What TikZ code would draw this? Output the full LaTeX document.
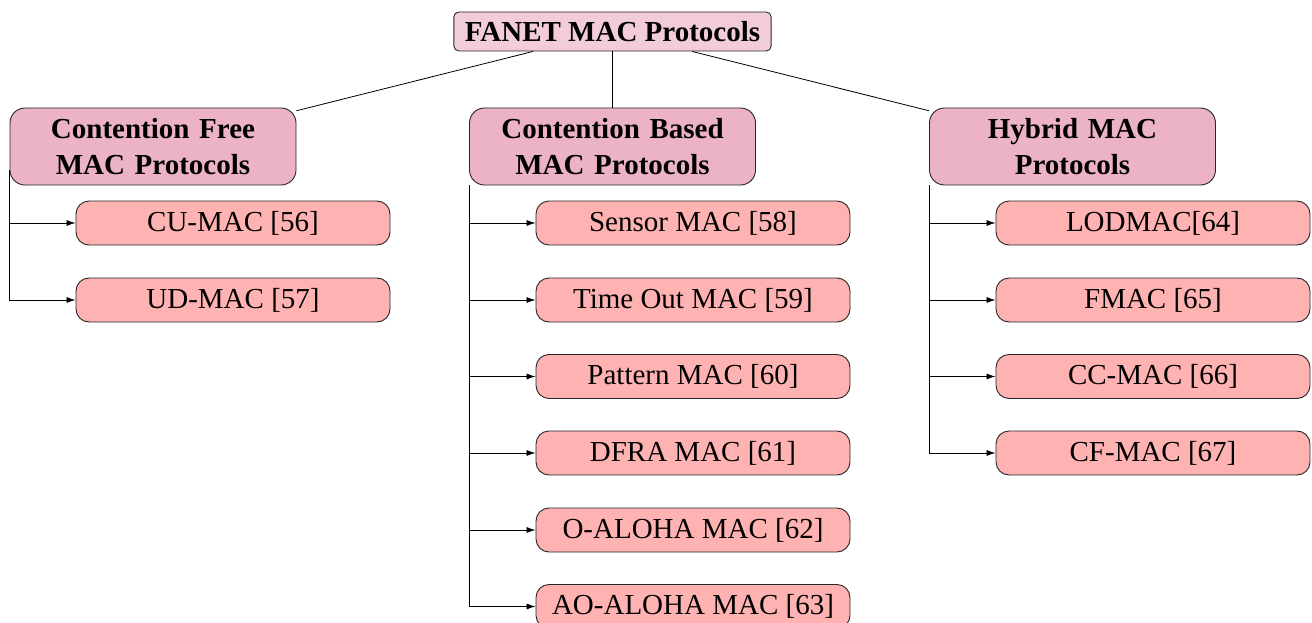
\documentclass[tikz,border=0pt]{standalone}
\usepackage{fontspec}
\setmainfont{Liberation Serif}
\usetikzlibrary{arrows.meta,calc}
\begin{document}
\begin{tikzpicture}[x=1pt,y=1pt,
  base/.style={draw=black!85, line width=0.9pt, align=center},
  rootbox/.style={base, fill=purple!20, rounded corners=5pt, minimum height=39pt, inner xsep=11pt, inner ysep=0pt, font=\fontsize{29}{36}\selectfont\bfseries},
  catbox/.style={base, fill=purple!30, rounded corners=15pt, text width=262pt, inner xsep=12pt, minimum height=77pt, inner ysep=0pt, font=\fontsize{29}{36}\selectfont\bfseries},
  leafbox/.style={base, fill=red!30, rounded corners=13pt, minimum width=314pt, minimum height=44pt, inner sep=0pt, font=\fontsize{29}{35}\selectfont},
  link/.style={line width=0.8pt},
  arr/.style={link, -{Latex[length=9pt,width=6pt]}}]
\useasboundingbox (0,0) rectangle (1312,-623);

\node[rootbox] (root) at (612.5,-31.5) {FANET MAC Protocols};

\node[catbox] (cf) at (153,-146.5) {Contention Free\\MAC Protocols};
\node[catbox] (cb) at (612.5,-146.5) {Contention Based\\MAC Protocols};
\node[catbox] (hy) at (1072.5,-146.5) {Hybrid MAC\\Protocols};

\node[leafbox] (a1) at (233,-223) {CU-MAC [56]};
\node[leafbox] (a2) at (233,-300) {UD-MAC [57]};

\node[leafbox] (b1) at (693,-223) {Sensor MAC [58]};
\node[leafbox] (b2) at (693,-300) {Time Out MAC [59]};
\node[leafbox] (b3) at (693,-376.5) {Pattern MAC [60]};
\node[leafbox] (b4) at (693,-453) {DFRA MAC [61]};
\node[leafbox] (b5) at (693,-530) {O-ALOHA MAC [62]};
\node[leafbox] (b6) at (693,-606.5) {AO-ALOHA MAC [63]};

\node[leafbox] (c1) at (1153,-223) {LODMAC[64]};
\node[leafbox] (c2) at (1153,-300) {FMAC [65]};
\node[leafbox] (c3) at (1153,-376.5) {CC-MAC [66]};
\node[leafbox] (c4) at (1153,-453) {CF-MAC [67]};

\draw[link] (root) -- (cf);
\draw[link] (root) -- (cb);
\draw[link] (root) -- (hy);

\coordinate (cfs) at ($(cf.south west)+(0,15)$);
\foreach \l in {a1,a2} \draw[arr] (cfs) |- (\l.west);
\foreach \l in {b1,b2,b3,b4,b5,b6} \draw[arr] (cb.south west) |- (\l.west);
\foreach \l in {c1,c2,c3,c4} \draw[arr] (hy.south west) |- (\l.west);
\end{tikzpicture}
\end{document}
